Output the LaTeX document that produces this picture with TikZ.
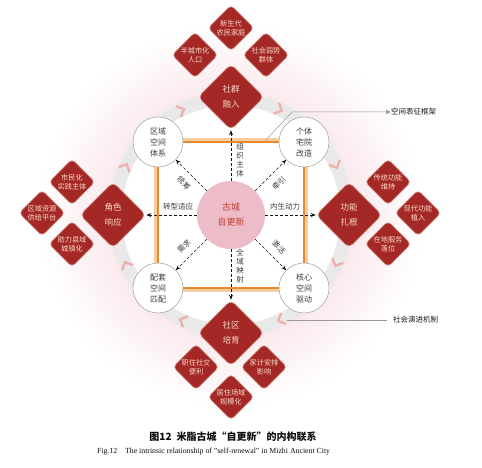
\documentclass[tikz,border=0pt]{standalone}
\usepackage{fontspec}
\setmainfont{Liberation Serif}
\newfontfamily\cjk{Noto Sans CJK SC}
\usetikzlibrary{shapes.geometric,arrows.meta,calc}
\definecolor{dred}{RGB}{163,40,38}
\definecolor{dtxt}{RGB}{248,216,198}
\definecolor{ringgray}{RGB}{233,233,233}
\definecolor{chevc}{RGB}{238,178,172}
\definecolor{orng}{RGB}{232,138,45}
\definecolor{orngl}{RGB}{247,205,160}
\definecolor{pinkbg}{RGB}{250,232,236}
\definecolor{ctext}{RGB}{196,60,50}
\definecolor{gtext}{RGB}{60,60,60}
\definecolor{pk1}{RGB}{236,188,200}
\definecolor{pk2}{RGB}{246,220,226}
\pgfdeclareradialshading{pinkring}{\pgfpoint{0bp}{0bp}}{color(0bp)=(white); color(14.6bp)=(white); color(14.8bp)=(pinkbg); color(24bp)=(white); color(50bp)=(white)}
\tikzset{
  bigdia/.style={diamond, aspect=1, fill=dred, draw=dtxt!60!dred, line width=0.6,
    minimum width=66, minimum height=66, inner sep=0, rounded corners=5,
    text=dtxt, align=center, font=\cjk\fontsize{8.5}{15}\selectfont},
  smalldia/.style={diamond, aspect=1, fill=dred, draw=dtxt!60!dred, line width=0.6,
    minimum width=46, minimum height=46, inner sep=0, rounded corners=4,
    text=dtxt, align=center, font=\cjk\fontsize{7.2}{9}\selectfont},
  cornercirc/.style={circle, draw=gray!75, fill=white, line width=0.5,
    minimum size=50, inner sep=0, align=center, text=gtext,
    font=\cjk\fontsize{8}{11}\selectfont},
  darr/.style={draw=gray!15!black, line width=0.6, dash pattern=on 3pt off 2pt,
    -{Stealth[length=5pt,width=4pt]}},
  lbl/.style={text=gtext, font=\cjk\fontsize{7.5}{9}\selectfont, inner sep=0, align=center},
  annarr/.style={draw=gray!80, line width=0.5, -{Triangle[length=5pt,width=4pt]}},
  annlbl/.style={text=gray!20!black, font=\cjk\fontsize{7.5}{9}\selectfont, anchor=west, inner sep=0},
  chev/.style={draw=chevc, line width=2.4, line join=miter}
}
\begin{document}
\begin{tikzpicture}[x=1pt,y=1pt]
\useasboundingbox (0,0) rectangle (482,467);
\coordinate (C) at (231,252);
% background pink halo (square path, fades to white before its edges)
\fill[shading=pinkring] ($(C)+(-200,-200)$) rectangle ($(C)+(200,200)$);
% gray ring
\draw[ringgray, line width=13] (C) circle (116);
% chevrons (clockwise)
\foreach \a in {25,65,115,155,205,245,295,335}{
  \begin{scope}[shift={($(C)+(\a:116)$)}, rotate=\a-90]
    \draw[chev] (-4,6) -- (2,0) -- (-4,-6);
  \end{scope}}
% orange square
\coordinate (q1) at (158,325);
\coordinate (q2) at (304,325);
\coordinate (q3) at (304,179);
\coordinate (q4) at (158,179);
\draw[orngl, line width=3.5] (155.5,327.5) rectangle (306.5,176.5);
\draw[orng, line width=1.6] (q1) -- (q2) -- (q3) -- (q4) -- cycle;
% center circle
\node[circle, minimum size=68, inner sep=0, top color=pk1, middle color=pk2, bottom color=pk1,
      shading angle=45, align=center, text=ctext, font=\cjk\fontsize{9}{15}\selectfont] (cc) at (C) {古城\\自更新};
% corner circles
\node[cornercirc] (c1) at (q1) {区域\\空间\\体系};
\node[cornercirc] (c2) at (q2) {个体\\宅院\\改造};
\node[cornercirc] (c3) at (q3) {核心\\空间\\驱动};
\node[cornercirc] (c4) at (q4) {配套\\空间\\匹配};
% main diamonds
\node[bigdia] (dT) at (231,370) {社群\\融入};
\node[bigdia] (dL) at (113,252) {角色\\响应};
\node[bigdia] (dR) at (349,252) {功能\\扎根};
\node[bigdia] (dB) at (231,134) {社区\\培育};
% small diamonds
\node[smalldia] (t1) at (231,439) {新生代\\农民家庭};
\node[smalldia] (t2) at (195,412) {半城市化\\人口};
\node[smalldia] (t3) at (266,412) {社会弱势\\群体};
\node[smalldia] (l1) at (72,285) {市民化\\实践主体};
\node[smalldia] (l2) at (42,254) {区域资源\\供给平台};
\node[smalldia] (l3) at (72,223) {助力县域\\城镇化};
\node[smalldia] (r1) at (388,285) {传统功能\\维持};
\node[smalldia] (r2) at (418,254) {现代功能\\植入};
\node[smalldia] (r3) at (388,223) {在地服务\\落位};
\node[smalldia] (b1) at (196,100) {职住社交\\便利};
\node[smalldia] (b2) at (264,100) {家计安排\\影响};
\node[smalldia] (b3) at (231,70) {居住场域\\规模化};
% dashed arrows
\draw[darr] (cc) -- (dT);
\draw[darr] (cc) -- (dB);
\draw[darr] (cc) -- (dL);
\draw[darr] (cc) -- (dR);
\draw[darr] (cc) -- (c1);
\draw[darr] (cc) -- (c2);
\draw[darr] (cc) -- (c3);
\draw[darr] (cc) -- (c4);
% arrow labels
\node[lbl] (lt) at (240,307) {组\\织\\主\\体};
\node[lbl] (lb) at (240,201) {全\\域\\映\\射};
\node[lbl] (ll) at (178,260) {转型适应};
\node[lbl] (lr) at (285,260) {内生动力};
\node[lbl, rotate=-45] (ld1) at (184,284) {统筹};
\node[lbl, rotate=45] (ld2) at (279,284) {牵引};
\node[lbl, rotate=45] (ld4) at (184,221) {需求};
\node[lbl, rotate=-45] (ld3) at (279,220) {激活};
% annotations
\coordinate (a1) at (265,326);
\coordinate (a1b) at (292,355);
\node[annlbl] (an1) at (391,355) {空间表征框架};
\draw[annarr] (a1) -- (a1b) -- (an1.west);
\coordinate (a2) at (287,147);
\node[annlbl] (an2) at (393,147) {社会演进机制};
\draw[draw=gray!80, line width=0.5] (a2) -- ([xshift=-6pt]an2.west);
% caption
\node[font=\cjk\bfseries\fontsize{10}{12}\selectfont, text=gray!10!black] (cap1) at (233,30) {图12\enspace 米脂古城“自更新”的内构联系};
\node[font=\fontsize{7.8}{9}\selectfont, anchor=west, inner sep=0, text=gray!10!black] (cap2) at (97,15) {Fig.12\quad The intrinsic relationship of "self-renewal" in Mizhi Ancient City};
\end{tikzpicture}
\end{document}
